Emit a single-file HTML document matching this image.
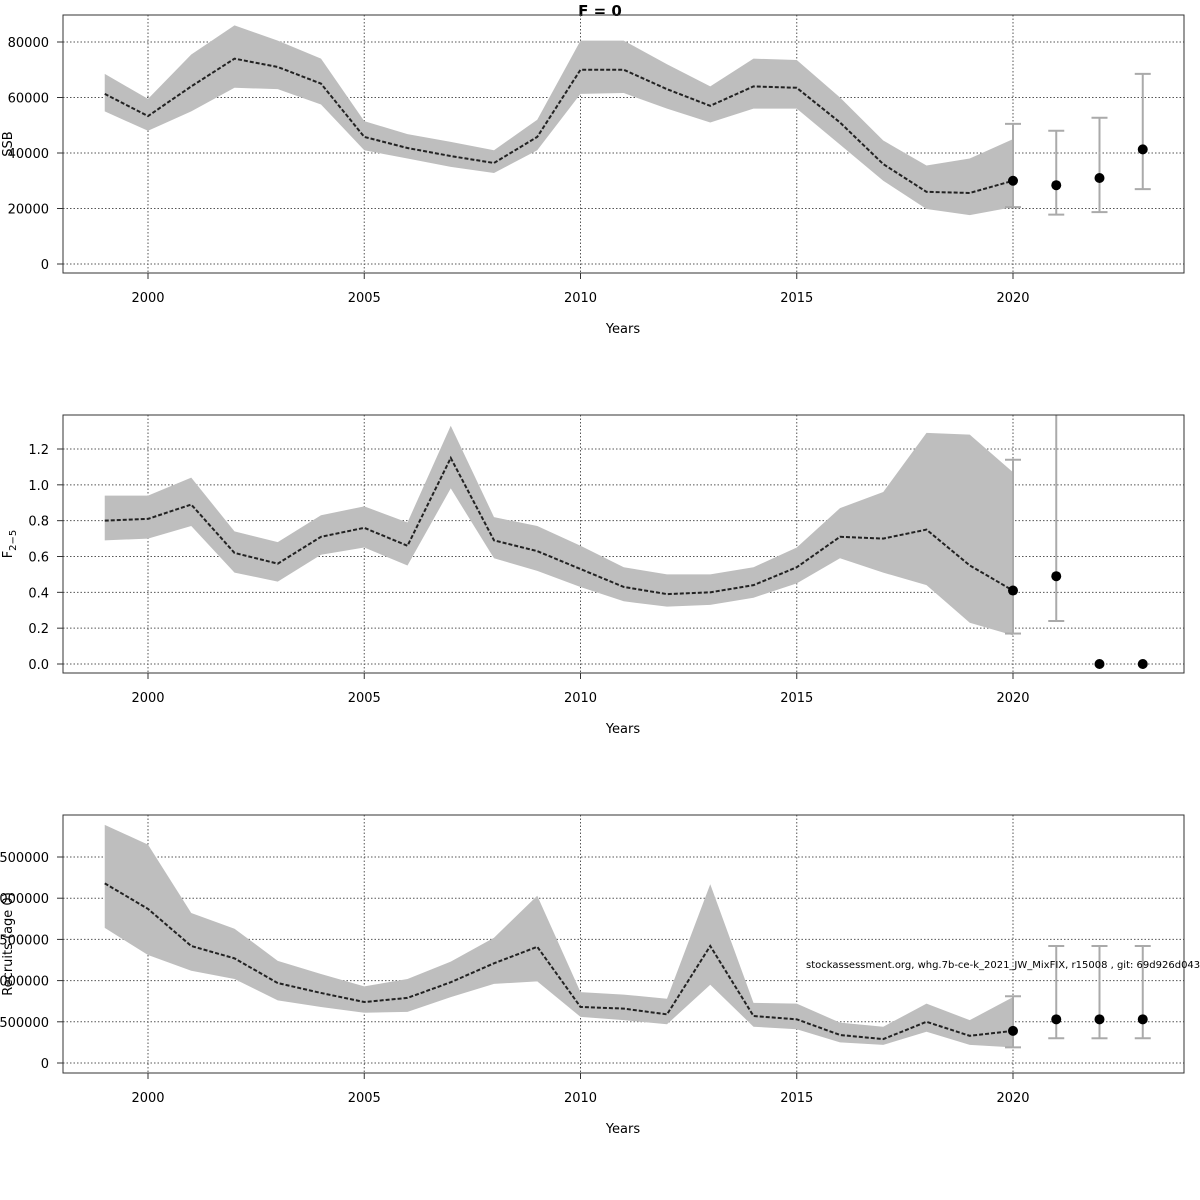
<!DOCTYPE html>
<html><head><meta charset="utf-8"><style>
html,body{margin:0;padding:0;background:#fff;}
svg{display:block;font-family:"DejaVu Sans","Liberation Sans",sans-serif;}
</style></head><body>
<svg id="chart" width="1200" height="1200" viewBox="0 0 1200 1200">
<text x="600" y="16" text-anchor="middle" font-size="15" font-weight="bold">F = 0</text>
<g id="panels"></g>
<text x="806" y="968" font-size="10">stockassessment.org, whg.7b-ce-k_2021_JW_MixFIX, r15008 , git: 69d926d0437c</text>
</svg>
<script>
const years = [1999,2000,2001,2002,2003,2004,2005,2006,2007,2008,2009,2010,2011,2012,2013,2014,2015,2016,2017,2018,2019,2020];
const xTicks = [2000,2005,2010,2015,2020];
const fcYears = [2020,2021,2022,2023];

const ssbMean = [61300,53300,64000,74000,71000,65000,45800,41800,38900,36400,45800,70000,70000,63000,57000,64000,63500,51000,36000,26000,25600,30000];
const ssbHigh = [68500,59500,75500,86000,80500,74000,51500,46800,44000,41000,52000,80500,80500,72000,64000,74000,73500,60000,44500,35500,38000,45000];
const ssbLow  = [55000,48000,55000,63500,63000,57500,41000,38000,35000,32800,41000,61300,61600,56000,51000,56000,56000,43000,30000,19800,17600,20500];
const ssbFc = [30000,28400,31000,41300];
const ssbFcLow = [20500,17800,18700,27000];
const ssbFcHigh = [50500,48000,52700,68500];
const ssbTicks = [0,20000,40000,60000,80000];

const fMean = [0.80,0.81,0.89,0.62,0.56,0.71,0.76,0.66,1.15,0.69,0.63,0.53,0.43,0.39,0.40,0.44,0.54,0.71,0.70,0.75,0.55,0.41];
const fHigh = [0.94,0.94,1.04,0.74,0.68,0.83,0.88,0.79,1.33,0.82,0.77,0.66,0.54,0.50,0.50,0.54,0.65,0.87,0.96,1.29,1.28,1.07];
const fLow  = [0.69,0.70,0.77,0.51,0.46,0.61,0.65,0.55,0.98,0.59,0.52,0.43,0.35,0.32,0.33,0.37,0.45,0.59,0.51,0.44,0.23,0.16];
const fFc = [0.41,0.49,0,0];
const fFcLow = [0.17,0.24,null,null];
const fFcHigh = [1.14,1.6,null,null];
const fTicks = [0,0.2,0.4,0.6,0.8,1.0,1.2];
const fTickLabels = ["0.0","0.2","0.4","0.6","0.8","1.0","1.2"];

const recMean = [2180000,1870000,1420000,1270000,970000,850000,740000,790000,980000,1210000,1410000,680000,660000,590000,1420000,570000,530000,340000,290000,500000,330000,390000];
const recHigh = [2890000,2650000,1820000,1630000,1240000,1080000,930000,1020000,1230000,1520000,2030000,860000,830000,780000,2170000,730000,720000,490000,440000,720000,520000,800000];
const recLow  = [1640000,1310000,1120000,1020000,760000,680000,610000,620000,800000,960000,990000,560000,520000,470000,950000,440000,410000,250000,220000,380000,220000,190000];
const recFc = [390000,530000,530000,530000];
const recFcLow = [190000,300000,300000,300000];
const recFcHigh = [810000,1420000,1420000,1420000];
const recTicks = [0,500000,1000000,1500000,2000000,2500000];

const NS='http://www.w3.org/2000/svg';
const root=document.getElementById('panels');
function mk(tag,attrs,parent){const e=document.createElementNS(NS,tag);for(const k in attrs)e.setAttribute(k,attrs[k]);(parent||root).appendChild(e);return e;}
const X0=63,X1=1184;
function xs(yr){return 148+(yr-2000)*43.25;}

function panel(idx,top,yZeroPx,pxPerUnit,ticks,tickLabels,mean,hi,lo,fc,fcLo,fcHi,ylabel,sub){
  const bottom=top+258;
  const ys=v=>yZeroPx-v*pxPerUnit;
  const g=mk('g',{});
  
  
  const cid='clip'+idx;
  const cp=mk('clipPath',{id:cid},g);mk('rect',{x:X0,y:top,width:X1-X0,height:258},cp);
  ticks.forEach(t=>{const l=mk('line',{x1:X0,x2:X1,y1:ys(t),y2:ys(t),stroke:'#555','stroke-dasharray':'1.5,2','stroke-width':1},g);
    });
  xTicks.forEach(t=>{const l=mk('line',{x1:xs(t),x2:xs(t),y1:top,y2:bottom,stroke:'#555','stroke-dasharray':'1.5,2','stroke-width':1},g);
    });
  const pg=mk('g',{'clip-path':'url(#'+cid+')'},g);
  let pts=years.map((y,i)=>xs(y)+','+ys(hi[i]));
  pts=pts.concat(years.slice().reverse().map((y,j)=>{const i=years.length-1-j;return xs(y)+','+ys(lo[i]);}));
  const band=mk('polygon',{points:pts.join(' '),fill:'#bebebe',stroke:'none'},pg);
  
  
  const line=mk('polyline',{points:years.map((y,i)=>xs(y)+','+ys(mean[i])).join(' '),fill:'none',stroke:'#222','stroke-width':2,'stroke-dasharray':'4,2'},pg);
  
  
  fcYears.forEach((yr,i)=>{
    const x=xs(yr);
    if(fcLo[i]!=null){
      const eb=mk('g',{stroke:'#aaa','stroke-width':2},pg);
      
      
      mk('line',{x1:x,x2:x,y1:ys(fcLo[i]),y2:ys(fcHi[i])},eb);
      mk('line',{x1:x-8,x2:x+8,y1:ys(fcLo[i]),y2:ys(fcLo[i])},eb);
      mk('line',{x1:x-8,x2:x+8,y1:ys(fcHi[i]),y2:ys(fcHi[i])},eb);
    }
    const c=mk('circle',{cx:x,cy:ys(fc[i]),r:5,fill:'#000'},g);
    
    
  });
  const box=mk('rect',{x:X0,y:top,width:X1-X0,height:258,fill:'none',stroke:'#333','stroke-width':1},g);
  
  
  ticks.forEach((t,i)=>{mk('line',{x1:X0-6,x2:X0,y1:ys(t),y2:ys(t),stroke:'#333'},g);
    const tx=mk('text',{x:X0-14,y:ys(t)+5,'font-size':13,'text-anchor':'end'},g);tx.textContent=tickLabels[i];
    });
  xTicks.forEach(t=>{mk('line',{x1:xs(t),x2:xs(t),y1:bottom,y2:bottom+6,stroke:'#333'},g);
    const tx=mk('text',{x:xs(t),y:bottom+29,'font-size':13,'text-anchor':'middle'},g);tx.textContent=t;
    });
  const xl=mk('text',{x:623,y:bottom+60,'font-size':13,'text-anchor':'middle'},g);xl.textContent='Years';
  
  const cy=top+129;
  const yl=mk('text',{x:0,y:0,'font-size':13,'text-anchor':'middle',transform:'translate(12,'+cy+') rotate(-90)'},g);
  yl.textContent=ylabel;
  if(sub){const s=mk('tspan',{'font-size':10,dy:4},yl);s.textContent=sub;}
  
}
panel(1,15,264,222/80000,ssbTicks,ssbTicks.map(String),ssbMean,ssbHigh,ssbLow,ssbFc,ssbFcLow,ssbFcHigh,'SSB');
panel(2,415,664,215/1.2,fTicks,fTickLabels,fMean,fHigh,fLow,fFc,fFcLow,fFcHigh,'F','2\u22125');
panel(3,815,1063,206/2500000,recTicks,recTicks.map(String),recMean,recHigh,recLow,recFc,recFcLow,recFcHigh,'Recruits (age 0)');
</script>
</body></html>
